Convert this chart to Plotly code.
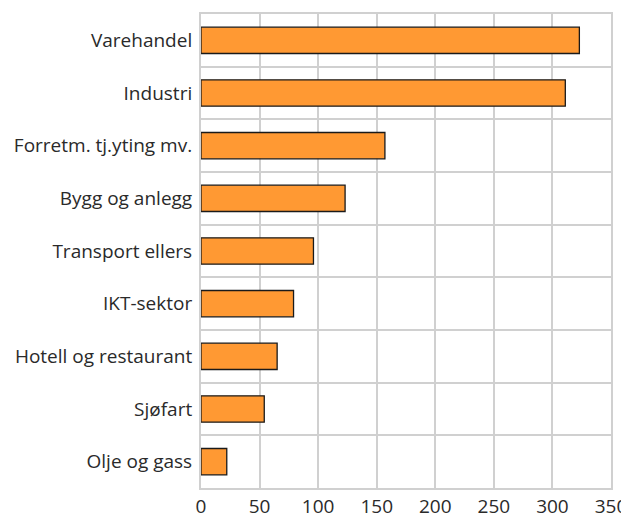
import plotly.graph_objects as go

categories = ["Varehandel", "Industri", "Forretm. tj.yting mv.", "Bygg og anlegg",
              "Transport ellers", "IKT-sektor", "Hotell og restaurant", "Sjøfart", "Olje og gass"]
values = [323, 311, 157, 123, 96, 79, 65, 54, 22]
x_ticks = [0, 50, 100, 150, 200, 250, 300, 350]

n = len(categories)
ypos = list(range(n - 1, -1, -1))

fig = go.Figure(go.Bar(
    x=values, y=ypos, orientation="h", width=0.5,
    marker=dict(color="#FF9933", line=dict(color="#1a1a1a", width=1.3)),
))

grid = "#d0d0d0"
fig.update_layout(
    width=621, height=510,
    margin=dict(l=193, r=18, t=6, b=30),
    plot_bgcolor="white", paper_bgcolor="white",
    font=dict(family="Open Sans", size=19, color="#2a2a2a"),
    showlegend=False,
    xaxis=dict(range=[0, 350], tickvals=x_ticks, showgrid=True, gridcolor=grid, gridwidth=2,
               zeroline=False, showline=True, linecolor=grid, linewidth=2, mirror=True,
               ticks="", fixedrange=True, automargin=False, ticklabelstandoff=0),
    yaxis=dict(range=[-0.5, n - 0.5], tickvals=ypos, ticktext=categories, showgrid=False,
               zeroline=False, showline=True, linecolor=grid, linewidth=2, mirror=True,
               ticks="", ticklabelstandoff=3, automargin=False,
               minor=dict(tickvals=[i + 0.5 for i in range(-1, n)], showgrid=True,
                          gridcolor=grid, gridwidth=2, ticks="")),
)
fig.write_html("out.html")
